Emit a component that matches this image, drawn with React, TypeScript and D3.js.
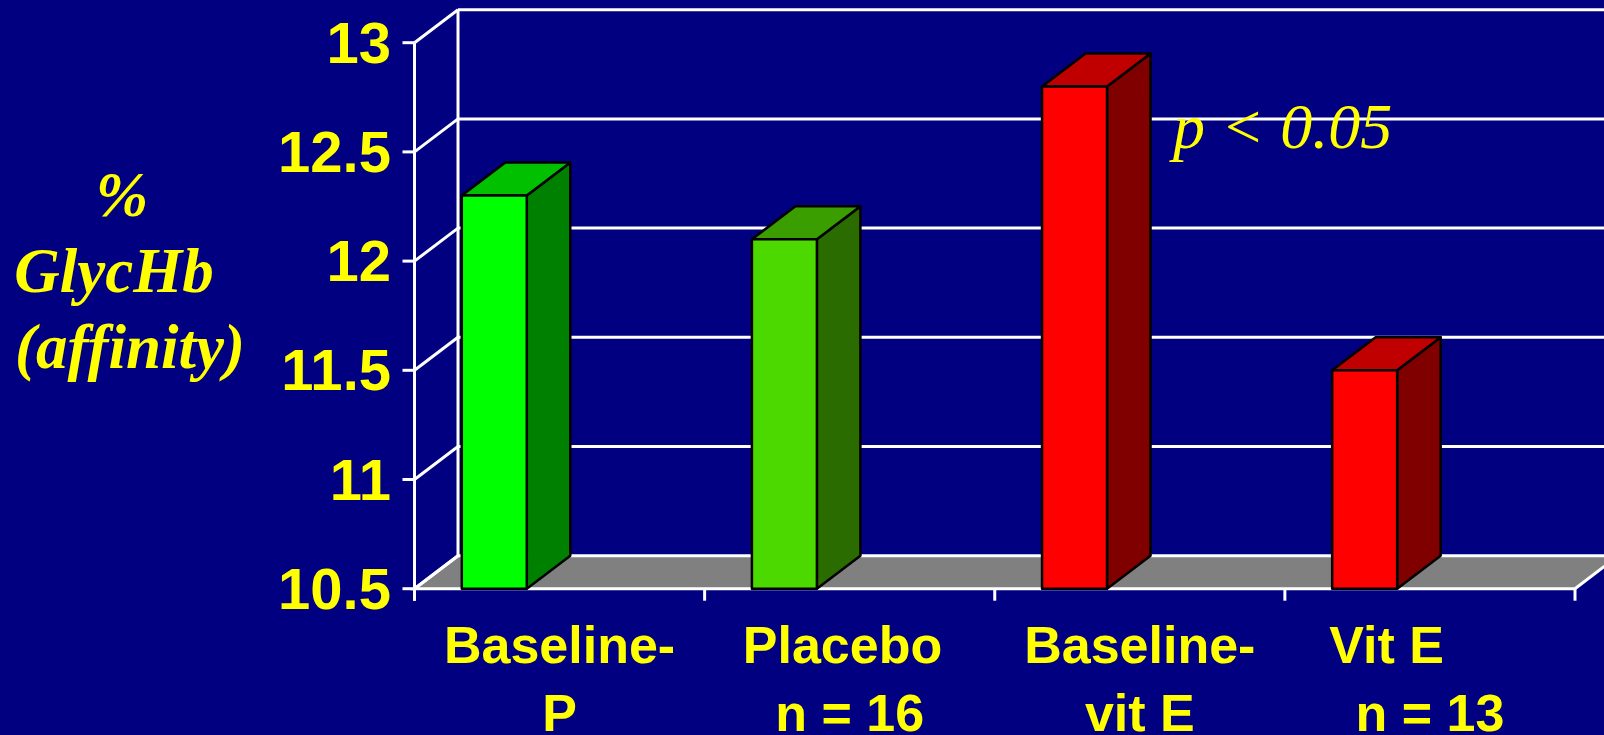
import React from 'react';
import * as d3 from 'd3';

const categories = ['Baseline-P', 'Placebo', 'Baseline-vit E', 'Vit E'];
const labelLines = [['Baseline-', 'P'], ['Placebo ', 'n = 16'], ['Baseline-', 'vit E'], ['Vit E      ', 'n = 13']];
const values = [12.3, 12.1, 12.8, 11.5];
const yTicks = [10.5, 11, 11.5, 12, 12.5, 13];
const yTitle = ['%', 'GlycHb', '(affinity)'];
const note = 'p < 0.05';

// front / top / side
const palette = [
    ['#00ff00', '#00c000', '#008000'],
    ['#4cd900', '#3a9e00', '#2a6c00'],
    ['#ff0000', '#c00000', '#800000'],
    ['#ff0000', '#c00000', '#800000'],
];

const W = 1604;
const H = 735;
const DX = 43.5;
const DY = -33;
const BG = '#000080';
const YELLOW = '#ffff00';
const LINE = 3;

const App: React.FC = () => {
    const y = d3.scaleLinear().domain([10.5, 13]).range([588.7, 42.7]);
    const x = d3.scaleBand().domain(categories).range([414.5, 1575]).padding(0);
    const bw = x.bandwidth();
    const y0 = y(10.5);
    const left = x.range()[0];
    const right = x.range()[1];

    const pts = (a: number[][]) => a.map(p => p.join(',')).join(' ');

    return (
        <svg width={W} height={H} style={{ position: 'absolute', left: 0, top: 0, background: BG }}>
            <rect width={W} height={H} fill={BG} />

            {/* floor */}
            <polygon
                points={pts([[left, y0], [right, y0], [right + DX, y0 + DY], [left + DX, y0 + DY]])}
                fill="#808080" stroke="#ffffff" strokeWidth={LINE}
            />

            {/* back wall grid + side wall diagonals */}
            {yTicks.map(t => (
                <g key={t}>
                    {t > 10.5 && (
                        <line x1={left + DX} x2={W} y1={y(t) + DY} y2={y(t) + DY} stroke="#ffffff" strokeWidth={LINE} />
                    )}
                    <line x1={left} x2={left + DX} y1={y(t)} y2={y(t) + DY} stroke="#ffffff" strokeWidth={LINE} />
                    <line x1={left - 12} x2={left} y1={y(t)} y2={y(t)} stroke="#ffffff" strokeWidth={LINE} />
                    <text x={391} y={y(t) + 20} textAnchor="end" fill={YELLOW}
                        style={{ font: 'bold 58px "Liberation Sans", Arial, sans-serif' }}>{t}</text>
                </g>
            ))}
            <line x1={left + DX} x2={left + DX} y1={y(13) + DY} y2={y0 + DY} stroke="#ffffff" strokeWidth={LINE} />
            <line x1={left} x2={left} y1={y(13)} y2={y0 + 12} stroke="#ffffff" strokeWidth={LINE} />

            {/* category ticks */}
            {[...categories.map(c => x(c)!), right].map((v, i) => (
                <line key={i} x1={v} x2={v} y1={y0} y2={y0 + 12} stroke="#ffffff" strokeWidth={LINE} />
            ))}

            {/* bars */}
            {categories.map((c, i) => {
                const bx = x(c)! + bw * 0.163;
                const w = bw * 0.224;
                const top = y(values[i]);
                const [front, topC, side] = palette[i];
                return (
                    <g key={c} stroke="#000000" strokeWidth={2.5} strokeLinejoin="round">
                        <polygon points={pts([[bx + w, top], [bx + w + DX, top + DY], [bx + w + DX, y0 + DY], [bx + w, y0]])} fill={side} />
                        <polygon points={pts([[bx, top], [bx + DX, top + DY], [bx + w + DX, top + DY], [bx + w, top]])} fill={topC} />
                        <rect x={bx} y={top} width={w} height={y0 - top} fill={front} />
                    </g>
                );
            })}

            {/* x labels */}
            {categories.map((c, i) => (
                <text key={c} x={x(c)! + bw / 2} textAnchor="middle" fill={YELLOW}
                    style={{ font: 'bold 52px "Liberation Sans", Arial, sans-serif', whiteSpace: 'pre' }}>
                    <tspan x={x(c)! + bw / 2} y={663}>{labelLines[i][0]}</tspan>
                    <tspan x={x(c)! + bw / 2} y={731}>{labelLines[i][1]}</tspan>
                </text>
            ))}

            {/* y title */}
            {yTitle.map((s, i) => (
                <text key={s} x={[122, 114, 130][i]} y={216 + i * 76} textAnchor="middle" fill={YELLOW}
                    style={{ font: 'italic bold 63px "Liberation Serif", "Times New Roman", serif' }}>{s}</text>
            ))}

            <text x={1173} y={148} fill={YELLOW}
                style={{ font: 'italic 64px "Liberation Serif", "Times New Roman", serif', whiteSpace: 'pre' }}>{note}</text>
        </svg>
    );
};

export default App;
